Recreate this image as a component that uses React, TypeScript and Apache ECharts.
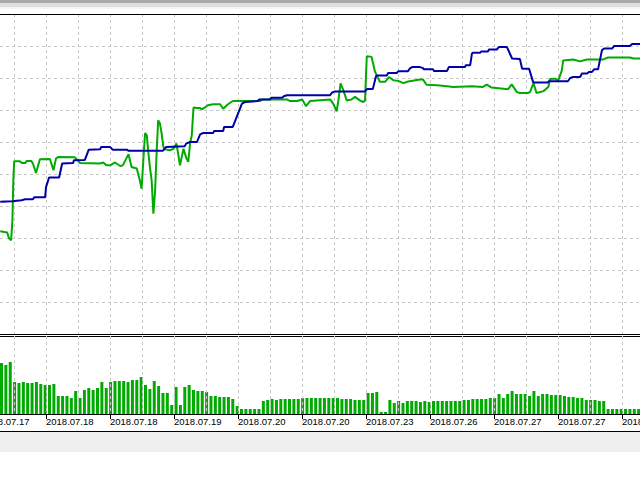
import React, { useEffect, useRef } from 'react';
import * as echarts from 'echarts';

// time labels every second grid slot (each slot = 32px)
const dateLabels = [
  '2018.07.17', '2018.07.18', '2018.07.18', '2018.07.19', '2018.07.20', '2018.07.20',
  '2018.07.23', '2018.07.26', '2018.07.27', '2018.07.27', '2018.07.30',
];

// volume histogram, one value per bar
const volumes = [
  51, 49, 52, 32, 31, 32, 31, 31, 32, 30, 29, 29, 30, 18, 18, 18, 16, 23, 16, 24,
  26, 24, 26, 32, 26, 32, 33, 33, 33, 32, 34, 34, 37, 29, 25, 33, 28, 21, 21, 9,
  27, 9, 27, 29, 24, 23, 23, 22, 18, 18, 17, 17, 17, 15, 8, 5, 5, 5, 5, 5,
  13, 14, 15, 14, 15, 15, 15, 15, 15, 16, 16, 16, 16, 16, 16, 16, 16, 16, 15, 15,
  15, 14, 14, 14, 21, 21, 22, 2, 2, 14, 11, 13, 11, 13, 13, 13, 12, 13, 12, 13,
  13, 13, 13, 13, 13, 13, 14, 14, 15, 15, 15, 15, 16, 16, 20, 16, 20, 23, 20, 20,
  20, 18, 23, 18, 20, 20, 19, 19, 19, 18, 17, 17, 16, 16, 14, 14, 14, 13, 13, 5,
  5, 5, 5, 5, 5, 5, 5, 5,
];

// [bar index, value]
const blueLine: [number, number][] = [
  [-0.3, 41.3], [2.4, 41.5], [4.6, 41.8], [5.4, 42.1], [7.2, 42.1], [7.5, 42.7],
  [10.0, 42.7], [10.2, 45.9], [10.9, 48.9], [13.2, 48.9], [13.9, 53.3], [16.4, 53.4],
  [16.6, 54.3], [19.1, 54.4], [20.0, 57.6], [22.6, 57.7], [22.8, 58.4], [24.9, 58.4],
  [25.5, 57.6], [28.8, 57.6], [29.0, 57.3], [37.0, 57.3], [37.7, 58.4], [42.0, 58.7],
  [42.3, 59.5], [43.2, 60.0], [44.8, 60.0], [45.5, 62.4], [46.2, 62.8], [48.5, 62.8],
  [48.7, 63.4], [50.8, 63.4], [51.0, 64.7], [53.0, 64.7], [55.1, 72.0], [55.8, 72.5],
  [58.8, 72.8], [59.0, 73.3], [61.5, 73.3], [61.8, 73.8], [64.3, 73.8], [64.7, 74.3],
  [65.4, 74.6], [75.3, 74.6], [75.7, 75.4], [76.4, 75.8], [83.3, 75.8], [83.8, 76.6],
  [85.1, 76.6], [85.8, 80.5], [86.0, 80.8], [88.3, 80.8], [88.6, 81.6], [90.6, 81.6],
  [90.9, 82.1], [93.1, 82.1], [93.6, 83.0], [94.1, 83.4], [95.9, 83.4], [96.6, 83.1],
  [96.8, 82.7], [98.9, 82.7], [99.1, 82.2], [102.1, 82.2], [102.5, 83.4], [106.2, 83.4],
  [106.4, 84.0], [107.4, 84.0], [107.8, 87.6], [108.0, 87.9], [109.7, 87.9], [109.9, 88.3],
  [111.5, 88.3], [111.7, 88.9], [113.5, 88.9], [114.0, 89.7], [115.8, 89.7], [117.0, 86.1],
  [118.8, 85.9], [119.3, 82.9], [120.9, 82.9], [121.8, 78.8], [122.0, 78.6], [125.2, 78.6],
  [125.4, 79.0], [129.8, 79.0], [130.3, 80.0], [131.0, 80.3], [132.6, 80.3], [133.0, 81.4],
  [134.2, 81.4], [134.6, 81.9], [135.3, 81.9], [135.8, 82.7], [136.7, 82.7], [137.6, 88.7],
  [138.1, 89.2], [139.9, 89.2], [140.4, 90.0], [144.0, 90.0], [144.5, 90.6], [146.5, 90.6],
];

const greenLine: [number, number][] = [
  [-0.3, 32.1], [1.3, 31.7], [1.7, 29.9], [2.2, 29.3], [2.5, 35.5], [2.7, 47.5],
  [2.9, 54.0], [4.2, 54.0], [4.7, 53.4], [5.4, 53.4], [5.8, 54.1], [6.8, 54.1],
  [7.2, 53.3], [7.9, 50.3], [8.8, 54.6], [11.1, 54.7], [11.9, 51.2], [12.5, 54.9],
  [13.0, 55.3], [16.8, 55.2], [17.3, 54.5], [18.0, 53.4], [22.6, 53.3], [23.3, 53.6],
  [24.1, 52.7], [24.9, 52.7], [26.0, 53.6], [27.2, 52.5], [27.8, 52.7], [29.1, 56.2],
  [29.8, 52.2], [31.0, 51.7], [31.7, 48.0], [32.1, 45.4], [32.5, 54.3], [32.9, 62.8],
  [33.3, 62.1], [33.6, 57.4], [34.0, 52.2], [34.4, 48.0], [34.8, 37.6], [35.2, 44.9],
  [35.6, 58.4], [35.9, 66.8], [36.3, 65.8], [36.7, 62.6], [37.1, 58.4], [37.5, 57.7],
  [38.6, 57.4], [39.4, 57.9], [40.1, 59.5], [40.9, 52.7], [41.7, 57.9], [42.4, 54.8],
  [42.8, 53.8], [43.2, 59.5], [43.6, 62.1], [44.0, 70.8], [44.8, 70.6], [45.5, 70.6],
  [45.9, 70.2], [46.6, 70.8], [47.3, 71.5], [48.5, 71.8], [50.1, 71.8], [50.8, 70.4],
  [51.9, 71.8], [53.0, 72.8], [59.2, 72.8], [59.9, 73.3], [65.4, 73.3], [66.1, 72.8],
  [67.7, 72.8], [68.9, 73.3], [69.8, 71.2], [70.7, 72.8], [75.3, 73.3], [76.0, 72.0],
  [76.8, 69.6], [77.2, 73.0], [77.7, 78.3], [78.2, 76.7], [79.1, 73.0], [80.2, 73.3],
  [81.0, 74.1], [82.1, 73.0], [82.9, 72.5], [83.3, 73.0], [83.7, 86.8], [84.8, 86.6],
  [85.6, 81.9], [86.7, 78.8], [87.9, 78.8], [88.8, 80.3], [89.8, 79.3], [90.9, 79.1],
  [92.1, 78.4], [93.2, 78.9], [95.9, 79.5], [96.6, 79.5], [97.4, 77.9], [99.8, 77.7],
  [102.1, 77.4], [103.5, 77.2], [107.8, 77.4], [110.3, 77.2], [111.2, 77.9], [112.3, 77.0],
  [116.1, 76.5], [116.9, 78.0], [118.1, 75.6], [118.8, 75.3], [120.6, 75.3], [121.1, 75.6],
  [121.9, 78.4], [122.6, 75.3], [124.2, 75.9], [125.3, 77.2], [125.7, 79.7], [126.8, 79.8],
  [127.6, 79.3], [128.4, 82.4], [128.7, 85.5], [131.0, 85.8], [132.6, 85.2], [134.1, 85.8],
  [137.9, 85.8], [139.0, 86.4], [144.0, 86.4], [144.8, 86.1], [146.5, 86.1],
];

const GRID_LINE = '#c8c8c8';
const BLUE = '#0000a8';
const GREEN = '#00aa00';

const App: React.FC = () => {
  const chartRef = useRef<HTMLDivElement>(null);

  useEffect(() => {
    if (!chartRef.current) return;
    const chart = echarts.init(chartRef.current, undefined, { renderer: 'svg' });

    // 22 slots -> 21 grid intervals of 32px, labels on every second slot
    const timeSlots = dateLabels.flatMap((d) => [d, '']);
    const xMin = -4.47;
    const xMax = 149.52;
    const dashed = { color: GRID_LINE, width: 1, type: [3, 3] as number[] };
    const frame = { show: true, onZero: false, lineStyle: { color: '#000', width: 1 } };

    const option: echarts.EChartsOption = {
      animation: false,
      backgroundColor: '#ffffff',
      grid: [
        { left: -18, width: 672, top: 14, height: 320, outerBoundsMode: 'none', containLabel: false },
        { left: -18, width: 672, top: 336, height: 78, outerBoundsMode: 'none', containLabel: false },
      ] as any,
      xAxis: [
        {
          gridIndex: 0,
          type: 'value',
          position: 'bottom',
          min: xMin,
          max: xMax,
          axisLine: frame,
          axisTick: { show: false },
          axisLabel: { show: false },
          splitLine: { show: false },
        },
        {
          gridIndex: 0,
          type: 'category',
          position: 'top',
          boundaryGap: false,
          data: timeSlots,
          axisLine: frame,
          axisTick: { show: false },
          axisLabel: { show: false },
          splitLine: { show: true, interval: 0, lineStyle: dashed },
        },
        {
          gridIndex: 1,
          type: 'value',
          position: 'top',
          min: xMin,
          max: xMax,
          axisLine: frame,
          axisTick: { show: false },
          axisLabel: { show: false },
          splitLine: { show: false },
        },
        {
          gridIndex: 1,
          type: 'category',
          position: 'bottom',
          boundaryGap: false,
          data: timeSlots,
          z: 3,
          axisLine: frame,
          axisTick: { show: true, interval: 1, length: 5, lineStyle: { color: '#000' } },
          axisLabel: {
            show: true,
            interval: 1,
            align: 'left',
            margin: 2,
            color: '#000',
            fontFamily: 'Liberation Sans',
            fontSize: 9.5,
          },
          splitLine: { show: true, interval: 0, lineStyle: dashed },
        },
      ],
      yAxis: [
        {
          gridIndex: 0,
          type: 'value',
          min: 0,
          max: 100,
          interval: 10,
          axisLine: { show: false },
          axisTick: { show: false },
          axisLabel: { show: false },
          splitLine: { show: true, lineStyle: dashed },
        },
        {
          gridIndex: 1,
          type: 'value',
          min: 0,
          max: 78,
          axisLine: { show: false },
          axisTick: { show: false },
          axisLabel: { show: false },
          splitLine: { show: false },
        },
      ],
      series: [
        {
          name: 'Blue',
          type: 'line',
          xAxisIndex: 0,
          yAxisIndex: 0,
          data: blueLine,
          showSymbol: false,
          lineStyle: { color: BLUE, width: 2 },
          z: 4,
        },
        {
          name: 'Green',
          type: 'line',
          xAxisIndex: 0,
          yAxisIndex: 0,
          data: greenLine,
          showSymbol: false,
          lineStyle: { color: GREEN, width: 2 },
          z: 3,
        },
        {
          name: 'Volume',
          type: 'bar',
          xAxisIndex: 2,
          yAxisIndex: 1,
          data: volumes.map((v, i) => [i, v]),
          barWidth: 3,
          itemStyle: { color: GREEN },
        },
      ],
      graphic: [
        { type: 'rect', left: 0, top: 0, shape: { width: 640, height: 3 }, style: { fill: '#a9a9a9' }, silent: true },
        { type: 'rect', left: 0, top: 3, shape: { width: 640, height: 4 }, style: { fill: '#dedede' }, silent: true },
        { type: 'rect', left: 0, top: 7, shape: { width: 640, height: 2 }, style: { fill: '#f4f4f4' }, silent: true },
        { type: 'rect', left: 0, top: 431, shape: { width: 640, height: 21 }, style: { fill: '#efefef' }, silent: true },
        { type: 'line', shape: { x1: 0, y1: 431.5, x2: 640, y2: 431.5 }, style: { stroke: '#000', lineWidth: 1 }, silent: true },
      ],
    };

    chart.setOption(option);

    return () => {
      chart.dispose();
    };
  }, []);

  return (
    <div
      ref={chartRef}
      style={{ position: 'fixed', left: 0, top: 0, width: 640, height: 480, background: '#fff' }}
    />
  );
};

export default App;
